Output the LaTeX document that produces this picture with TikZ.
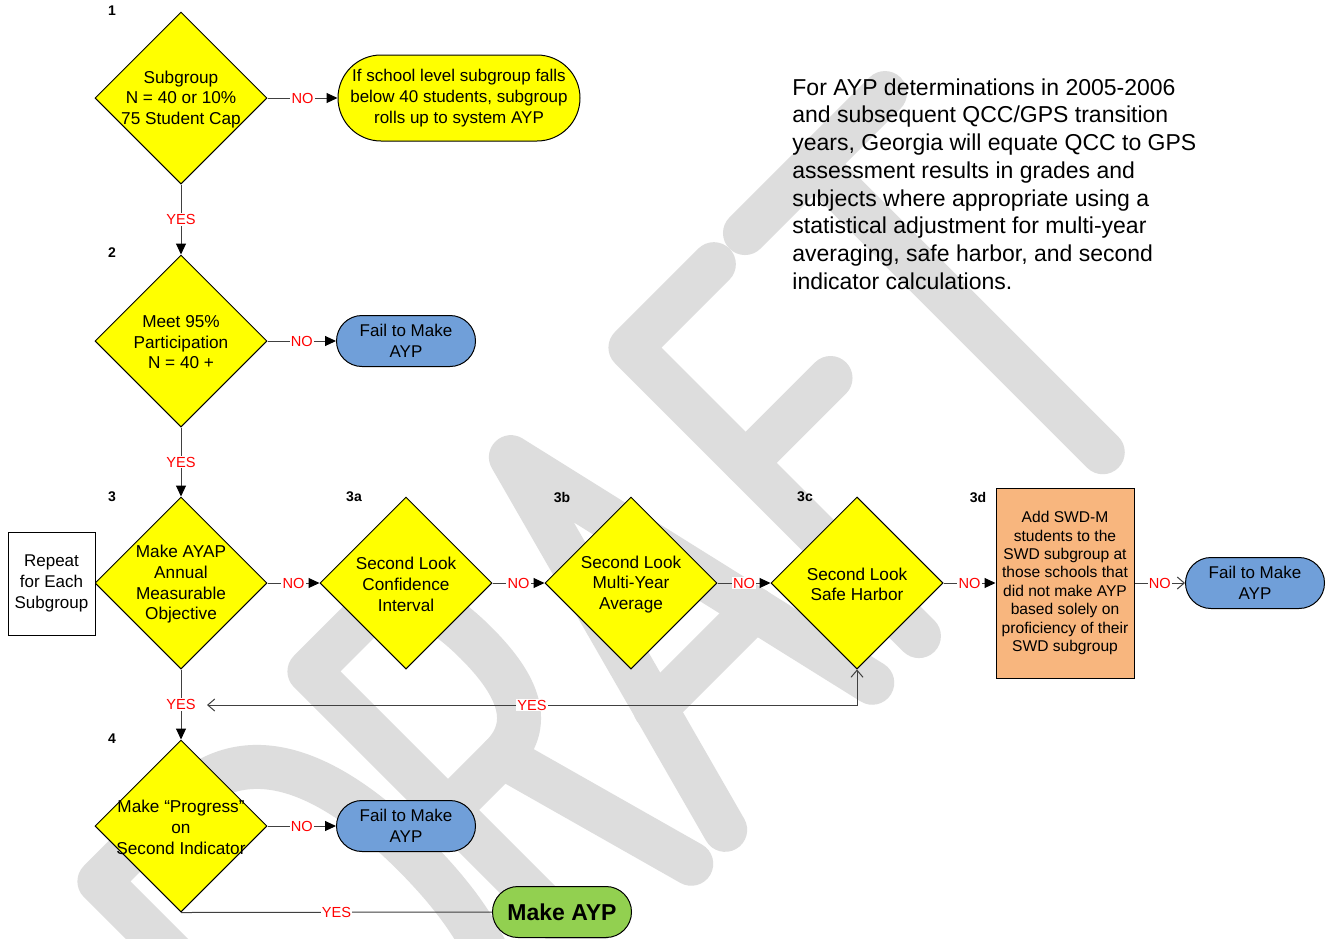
\documentclass[tikz,border=0pt]{standalone}
\usepackage{fontspec}
\setmainfont{Liberation Sans}
\usetikzlibrary{shapes.geometric,arrows.meta}
\definecolor{dyellow}{RGB}{255,255,0}
\definecolor{failblue}{RGB}{112,159,217}
\definecolor{okgreen}{RGB}{146,208,80}
\definecolor{peach}{RGB}{248,182,126}
\definecolor{wmgray}{RGB}{221,221,221}
\definecolor{lblred}{RGB}{255,0,0}
\definecolor{linegray}{RGB}{64,64,64}
\begin{document}
\begin{tikzpicture}[x=0.5pt,y=-0.5pt,
  dia/.style={diamond, draw=black, fill=dyellow, line width=0.5pt, minimum width=86pt, minimum height=86pt, inner sep=0pt},
  dtext/.style={font=\fontsize{8.6}{10.3}\selectfont, align=center, inner sep=0pt, yshift=-0.7pt},
  term/.style={rectangle, draw=black, line width=0.5pt, rounded corners=12.75pt, minimum width=69.5pt, minimum height=25.5pt, inner sep=0pt, align=center, font=\fontsize{8.5}{10.3}\selectfont},
  failn/.style={term, fill=failblue},
  num/.style={font=\fontsize{7}{8}\selectfont\bfseries, inner sep=0pt},
  lab/.style={font=\fontsize{7.3}{8}\selectfont, text=lblred, fill=white, inner sep=0.6pt},
  cline/.style={draw=linegray, line width=0.5pt},
  farrow/.style={-{Triangle[length=5.5pt,width=5pt,black]}},
  oarrow/.style={-{Straight Barb[length=3.5pt,width=6pt]}},
  wm/.style={draw=wmgray, line width=22pt, line cap=round, line join=round}
]
\useasboundingbox (0,0) rectangle (1327,938);
\fill[white] (0,0) rectangle (1327,938);

% watermark DRAFT
\begin{scope}
\clip (0,0) rectangle (1327,938);
\begin{scope}[shift={(777.5,777.5)}, x={(0.35355pt,0.35355pt)}, y={(-0.35355pt,0.35355pt)}]
  \draw[wm] (-553,0) -- (-553,406) -- (-440,406) .. controls (-345,406) and (-312,320) .. (-312,203) .. controls (-312,86) and (-345,0) .. (-440,0) -- cycle;
  \draw[wm] (-256,0) -- (-256,406) -- (-180,406) .. controls (-130,406) and (-118,360) .. (-118,308) .. controls (-118,256) and (-130,210) .. (-180,210) -- (-256,210);
  \draw[wm] (-180,210) -- (-122,0);
  \draw[wm] (-74,0) -- (38,415) -- (134,0);
  \draw[wm] (-38,135) -- (103,135);
  \draw[wm] (200,0) -- (200,408) -- (318,408);
  \draw[wm] (200,245) -- (320,245);
  \draw[wm] (362,408) -- (560,408);
  \draw[wm] (460,408) -- (460,0);
\end{scope}
\end{scope}

% diamonds
\node[dia] (d1) at (181,98) {};
\node[dia] (d2) at (181,341) {};
\node[dia] (d3) at (181,583) {};
\node[dia] (d3a) at (406,583) {};
\node[dia] (d3b) at (631,583) {};
\node[dia] (d3c) at (857,583) {};
\node[dia] (d4) at (181,826) {};

\node[dtext] (d1t) at (d1.center) {Subgroup\\N = 40 or 10\%\\75 Student Cap};
\node[dtext] (d2t) at (d2.center) {Meet 95\%\\Participation\\N = 40 +};
\node[dtext] (d3t) at (d3.center) {Make AYAP\\Annual\\Measurable\\Objective};
\node[dtext] (d3at) at (d3a.center) {Second Look\\Confidence\\Interval};
\node[dtext] (d3bt) at (d3b.center) {Second Look\\Multi-Year\\Average};
\node[dtext] (d3ct) at (d3c.center) {Second Look\\Safe Harbor};
\node[dtext] (d4t) at (d4.center) {Make “Progress”\\on\\Second Indicator};

% numbers
\node[num] (n1) at (112,11) {1};
\node[num] (n2) at (112,253) {2};
\node[num] (n3) at (112,497) {3};
\node[num] (n3a) at (354,497) {3a};
\node[num] (n3b) at (562,497) {3b};
\node[num] (n3c) at (805,497) {3c};
\node[num] (n3d) at (978,497) {3d};
\node[num] (n4) at (112,739) {4};

% terminals and boxes
\node[term, fill=dyellow, minimum width=121pt, minimum height=43pt, rounded corners=21.5pt] (t1) at (459,98) {If school level subgroup falls\\below 40 students, subgroup\\rolls up to system AYP};
\node[failn] (f2) at (406,341) {Fail to Make\\AYP};
\node[failn] (f4) at (406,826) {Fail to Make\\AYP};
\node[failn] (f3d) at (1255,583) {Fail to Make\\AYP};
\node[term, fill=okgreen, font=\fontsize{11.5}{13}\selectfont\bfseries] (mk) at (562,912) {Make AYP};
\node[rectangle, draw=black, fill=peach, line width=0.5pt, minimum width=69pt, minimum height=95pt, inner sep=0pt, align=center, font=\fontsize{7.8}{9.2}\selectfont] (b3d) at (1065,583) {Add SWD-M\\students to the\\SWD subgroup at\\those schools that\\did not make AYP\\based solely on\\proficiency of their\\SWD subgroup};
\node[rectangle, draw=black, fill=white, line width=0.5pt, minimum width=43.5pt, minimum height=51.5pt, inner sep=0pt, align=center, font=\fontsize{8.5}{10.3}\selectfont] (rep) at (51.5,583.5) {Repeat\\for Each\\Subgroup};

\node[anchor=west, align=left, inner sep=0pt, font=\fontsize{11.5}{13.85}\selectfont] (note) at (792,184) {For AYP determinations in 2005-2006\\and subsequent QCC/GPS transition\\years, Georgia will equate QCC to GPS\\assessment results in grades and\\subjects where appropriate using a\\statistical adjustment for multi-year\\averaging, safe harbor, and second\\indicator calculations.};

% connectors
\draw[cline,farrow] (d1.east) -- node[lab]{NO} (t1.west);
\draw[cline,farrow] (d1.south) -- node[lab]{YES} (d2.north);
\draw[cline,farrow] (d2.east) -- node[lab]{NO} (f2.west);
\draw[cline,farrow] (d2.south) -- node[lab]{YES} (d3.north);
\draw[cline,farrow] (d3.east) -- node[lab]{NO} (d3a.west);
\draw[cline,farrow] (d3a.east) -- node[lab]{NO} (d3b.west);
\draw[cline,farrow] (d3b.east) -- node[lab]{NO} (d3c.west);
\draw[cline,farrow] (d3c.east) -- node[lab]{NO} (b3d.west);
\draw[cline,oarrow] (b3d.east) -- node[lab]{NO} (f3d.west);
\draw[cline,farrow] (d3.south) -- node[lab]{YES} (d4.north);
\coordinate (loopend) at (207,705);
\draw[cline,{Straight Barb[length=3.5pt,width=6pt]}-{Straight Barb[length=3.5pt,width=6pt]}] (loopend) -| node[lab,pos=0.25]{YES} (d3c.south);
\draw[cline,farrow] (d4.east) -- node[lab]{NO} (f4.west);
\draw[cline] (d4.south) -- node[lab]{YES} (mk.west);
\end{tikzpicture}
\end{document}
